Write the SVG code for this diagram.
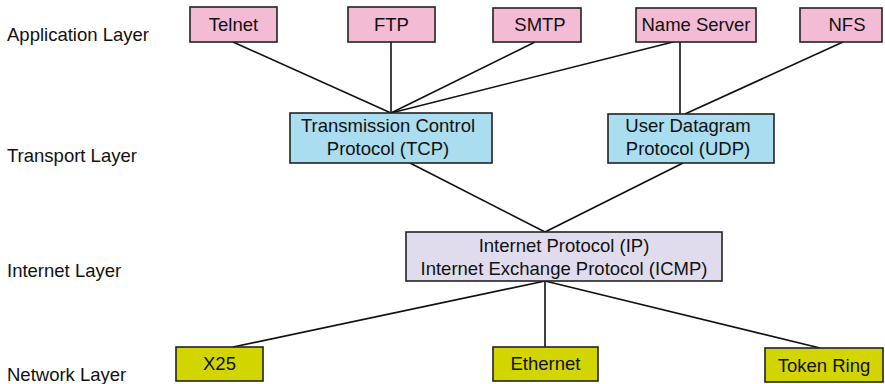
<svg xmlns="http://www.w3.org/2000/svg" width="885" height="384" viewBox="0 0 885 384">
<style>
text{font-family:"Liberation Sans",Arial,sans-serif;font-size:18.5px;fill:#111}
.c{text-anchor:middle}
rect{stroke:#222;stroke-width:1.6}
.app{fill:#f4bbd5}
.tr{fill:#a9ddef}
.ip{fill:#e0dcee}
.net{fill:#d3d500}
#connectors line{stroke:#111;stroke-width:1.6}
</style>
<rect width="885" height="384" fill="#fff" style="stroke:none"/>
<g id="layer-labels">
<text x="7" y="41">Application Layer</text>
<text x="7" y="162">Transport Layer</text>
<text x="7" y="277">Internet Layer</text>
<text x="7" y="381">Network Layer</text>
</g>
<g id="connectors">
<line x1="233" y1="42" x2="391" y2="113"/>
<line x1="391" y1="42" x2="391" y2="113"/>
<line x1="535" y1="42" x2="391" y2="113"/>
<line x1="673" y1="42" x2="391" y2="113"/>
<line x1="680" y1="42" x2="680" y2="114"/>
<line x1="843" y1="42" x2="685" y2="114"/>
<line x1="410" y1="163" x2="545" y2="232"/>
<line x1="683" y1="163" x2="545" y2="232"/>
<line x1="545" y1="281" x2="233" y2="347"/>
<line x1="545" y1="281" x2="545" y2="347"/>
<line x1="545" y1="281" x2="820" y2="348"/>
</g>
<g id="telnet"><rect class="app" x="190" y="7" width="87" height="35"/><text class="c" x="233.5" y="31">Telnet</text></g>
<g id="ftp"><rect class="app" x="348" y="7" width="87" height="35"/><text class="c" x="391.5" y="31">FTP</text></g>
<g id="smtp"><rect class="app" x="493" y="8" width="88" height="34"/><text class="c" x="540" y="31">SMTP</text></g>
<g id="nameserver"><rect class="app" x="636" y="8" width="120" height="34"/><text class="c" x="696" y="31">Name Server</text></g>
<g id="nfs"><rect class="app" x="800" y="8" width="82" height="34"/><text class="c" x="847" y="31">NFS</text></g>
<g id="tcp"><rect class="tr" x="290" y="113" width="202" height="50"/><text class="c" x="388" y="132">Transmission Control</text><text class="c" x="388" y="155">Protocol (TCP)</text></g>
<g id="udp"><rect class="tr" x="608" y="114" width="166" height="49"/><text class="c" x="688" y="132">User Datagram</text><text class="c" x="688" y="155">Protocol (UDP)</text></g>
<g id="ip"><rect class="ip" x="406" y="232" width="316" height="49"/><text class="c" x="564" y="252">Internet Protocol (IP)</text><text class="c" x="564" y="275">Internet Exchange Protocol (ICMP)</text></g>
<g id="x25"><rect class="net" x="176" y="347" width="87" height="34"/><text class="c" x="219.5" y="370">X25</text></g>
<g id="ethernet"><rect class="net" x="493" y="347" width="105" height="34"/><text class="c" x="545.5" y="370">Ethernet</text></g>
<g id="tokenring"><rect class="net" x="765" y="348" width="118" height="34"/><text class="c" x="824" y="372">Token Ring</text></g>
</svg>
